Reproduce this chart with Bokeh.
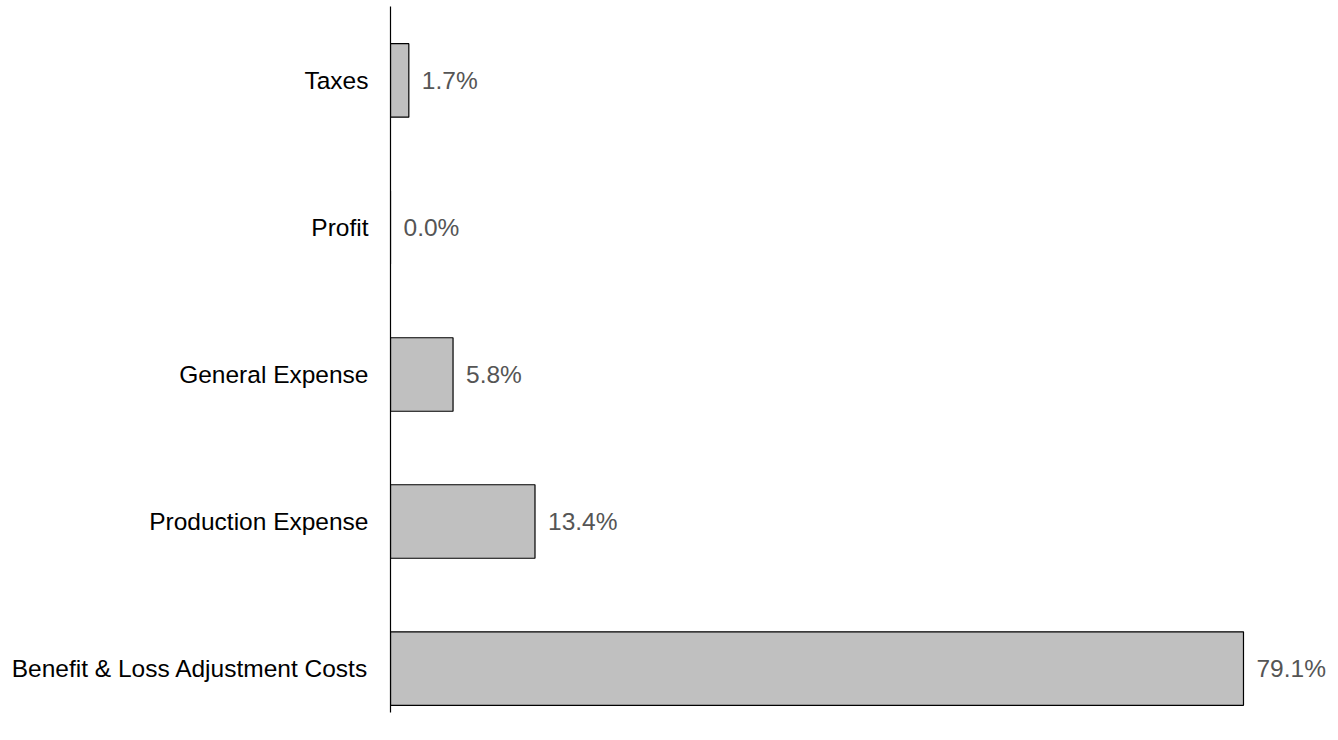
from bokeh.plotting import figure
from bokeh.models import ColumnDataSource, Range1d, FixedTicker
from bokeh.core.properties import value
from bokeh.embed import file_html
from bokeh.resources import INLINE

categories = ["Benefit & Loss Adjustment Costs", "Production Expense", "General Expense", "Profit", "Taxes"]
values = [79.1, 13.4, 5.8, 0.0, 1.7]

pos = list(range(len(categories)))
labels = [f"{v:.1f}%" for v in values]
src = ColumnDataSource(dict(y=pos, v=values, lab=labels, zero=[0] * len(values)))

p = figure(width=1334, height=724, output_backend="svg", toolbar_location=None,
           x_range=Range1d(0, 87.54), y_range=Range1d(-0.299, 4.503),
           min_border_left=390, min_border_right=0, min_border_top=6, min_border_bottom=12)
p.outline_line_color = None
p.xgrid.visible = False
p.ygrid.visible = False
p.xaxis.visible = False

p.hbar(y="y", left="zero", right="v", height=0.5, source=src,
       fill_color="#c0c0c0", line_color="#000000", line_width=1.2)

p.text(x="v", y="y", text="lab", source=src, x_offset=13,
       text_baseline="middle", text_align="left",
       text_font=value("Liberation Sans"), text_font_size="24.5px", text_color="#555555")

ax = p.yaxis[0]
ax.ticker = FixedTicker(ticks=pos)
ax.major_label_overrides = {i: c for i, c in zip(pos, categories)}
ax.major_tick_line_color = None
ax.minor_tick_line_color = None
ax.major_tick_out = 0
ax.major_tick_in = 0
ax.major_label_standoff = 22
ax.major_label_text_font = "Liberation Sans"
ax.major_label_text_font_size = "24.5px"
ax.major_label_text_color = "#000000"
ax.axis_line_color = "#000000"
ax.axis_line_width = 1.2

open("out.html", "w").write(file_html(p, INLINE))
